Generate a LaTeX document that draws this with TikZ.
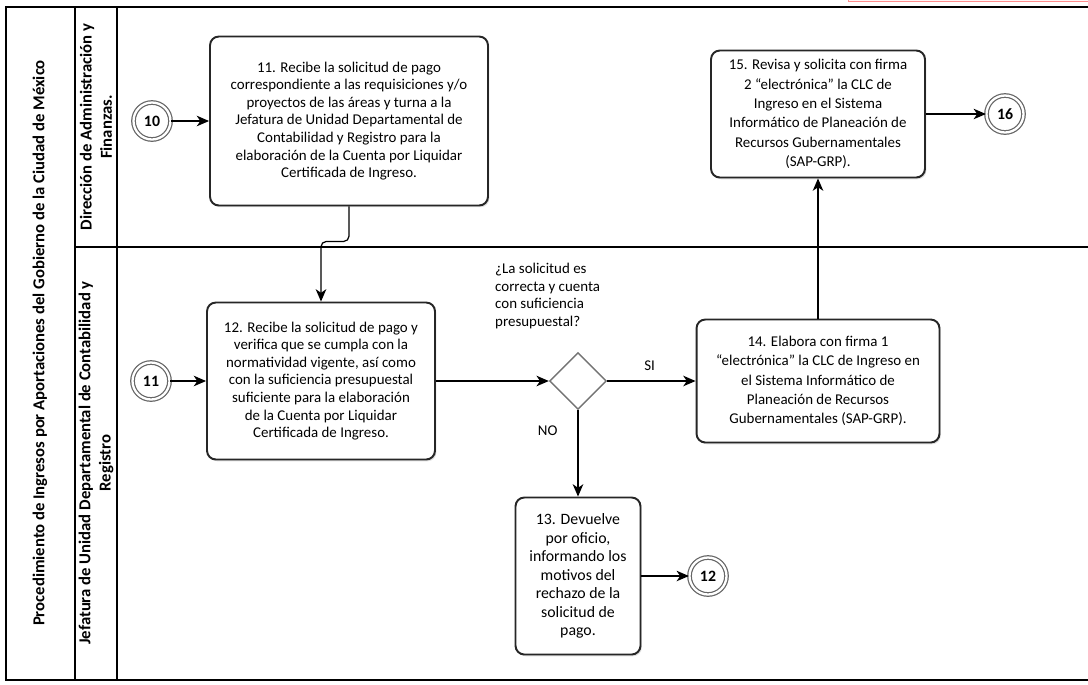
\documentclass[tikz,border=0pt]{standalone}
\usepackage{fontspec}
\setmainfont{Carlito}
\usetikzlibrary{arrows.meta, shapes.geometric, shadows}

\begin{document}
\begin{tikzpicture}[x=0.02cm, y=-0.02cm, >=Stealth,
    font=\fontsize{8.5}{10}\selectfont,
    actbox/.style={draw=black!85, line width=1.1pt, fill=white, rounded corners=5pt,
                   align=center, inner sep=2pt,
                   drop shadow={shadow xshift=0.8pt, shadow yshift=-1pt, opacity=0.25}},
    endcirc/.style={circle, draw=black!60, double=white, double distance=1.3pt,
                    line width=0.7pt, minimum size=0.74cm, inner sep=0pt,
                    font=\fontsize{9}{10}\selectfont\bfseries},
    decision/.style={diamond, draw=black!55, line width=0.8pt, minimum size=1.14cm, inner sep=0pt},
    flow/.style={line width=0.7pt, -{Stealth[length=7pt, width=6pt, inset=2pt]}},
    lanetxt/.style={rotate=90, align=center, font=\fontsize{9.5}{11.5}\selectfont\bfseries}
]
\useasboundingbox (0,0) rectangle (1088,684);

% ── frame and swimlanes ───────────────────────────────────────────
\draw[red!45, fill=red!3] (848,-6) rectangle (1100,1.5);
\draw[line width=0.8pt] (6,7) rectangle (1100,680);
\draw[line width=0.8pt] (75,7) -- (75,680);
\draw[line width=0.8pt] (117,7) -- (117,680);
\draw[line width=0.8pt] (75,247) -- (1100,247);

\node[lanetxt] (title) at (40,343)
    {Procedimiento de Ingresos por Aportaciones del Gobierno de la Ciudad de México};
\node[lanetxt] (laneA) at (96,127) {Dirección de Administración y\\Finanzas.};
\node[lanetxt] (laneB) at (96,463) {Jefatura de Unidad Departamental de Contabilidad y\\Registro};

% ── upper lane ────────────────────────────────────────────────────
\node[endcirc] (c10) at (152,121) {10};
\node[actbox, minimum width=5.56cm, minimum height=3.38cm] (b11) at (349,121)
    {11. Recibe la solicitud de pago\\
     correspondiente a las requisiciones y/o\\
     proyectos de las áreas y turna a la\\
     Jefatura de Unidad Departamental de\\
     Contabilidad y Registro para la\\
     elaboración de la Cuenta por Liquidar\\
     Certificada de Ingreso.};

\node[actbox, minimum width=4.28cm, minimum height=2.54cm,
      font=\fontsize{8.5}{11}\selectfont] (b15) at (818,114)
    {15. Revisa y solicita con firma\\
     2 “electrónica” la CLC de\\
     Ingreso en el Sistema\\
     Informático de Planeación de\\
     Recursos Gubernamentales\\
     (SAP-GRP).};
\node[endcirc] (c16) at (1005,114) {16};

% ── lower lane ────────────────────────────────────────────────────
\node[endcirc] (c11) at (151,381) {11};
\node[actbox, minimum width=4.56cm, minimum height=3.14cm] (b12) at (321,381)
    {12. Recibe la solicitud de pago y\\
     verifica que se cumpla con la\\
     normatividad vigente, así como\\
     con la suficiencia presupuestal\\
     suficiente para la elaboración\\
     de la Cuenta por Liquidar\\
     Certificada de Ingreso.};

\node[decision] (dec) at (578,381) {};
\node[align=left, anchor=north west] (ask) at (489,257)
    {¿La solicitud es\\correcta y cuenta\\con suficiencia\\presupuestal?};

\node[actbox, minimum width=4.86cm, minimum height=2.46cm,
      font=\fontsize{8.5}{11}\selectfont] (b14) at (818,381)
    {14. Elabora con firma 1\\
     “electrónica” la CLC de Ingreso en\\
     el Sistema Informático de\\
     Planeación de Recursos\\
     Gubernamentales (SAP-GRP).};

\node[actbox, minimum width=2.5cm, minimum height=3.14cm,
      font=\fontsize{9}{10.5}\selectfont] (b13) at (578,576)
    {13. Devuelve\\por oficio,\\informando los\\motivos del\\rechazo de la\\solicitud de\\pago.};
\node[endcirc] (c12) at (708,576) {12};

% ── connectors ────────────────────────────────────────────────────
\draw[flow] (c10) -- (b11);
\draw[flow, rounded corners=3pt] (b11.south) -- ++(0,35) -| (b12.north);
\draw[flow] (c11) -- (b12);
\draw[flow] (b12) -- (dec);
\draw[flow] (dec) -- node[above=2pt, pos=0.48] {SI} (b14);
\draw[flow] (dec) -- node[left=8pt, pos=0.24] {NO} (b13);
\draw[flow] (b13) -- (c12);
\draw[flow] (b14) -- (b15);
\draw[flow] (b15) -- (c16);

\end{tikzpicture}
\end{document}
